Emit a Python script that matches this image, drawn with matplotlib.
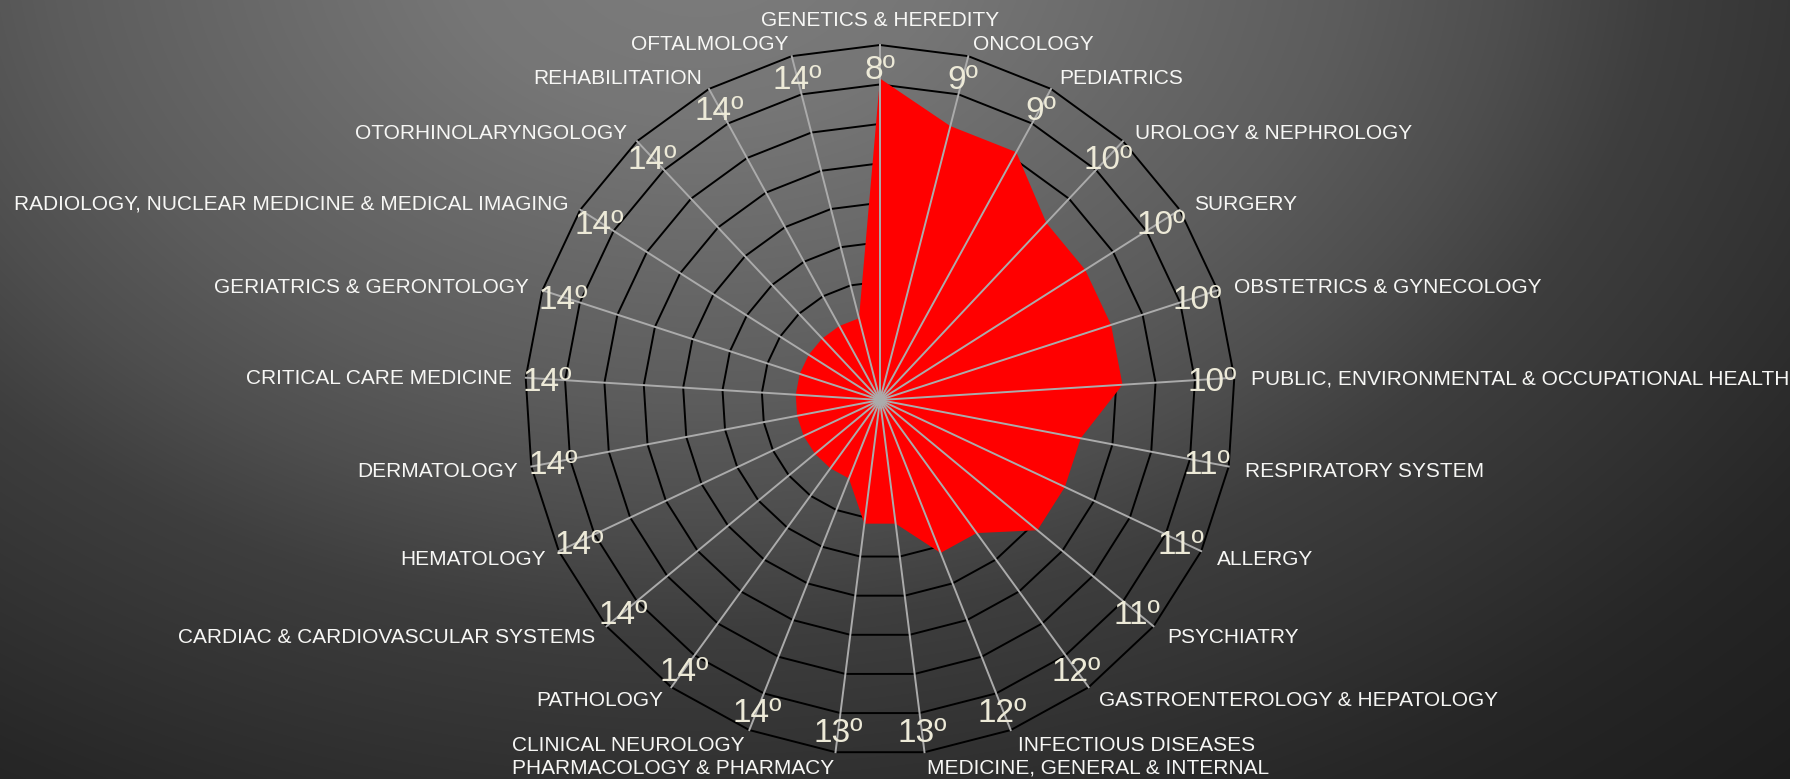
import numpy as np
import matplotlib
matplotlib.use("Agg")
import matplotlib.pyplot as plt

# ---------------- data ----------------
categories = [
    "GENETICS & HEREDITY", "ONCOLOGY", "PEDIATRICS", "UROLOGY & NEPHROLOGY",
    "SURGERY", "OBSTETRICS & GYNECOLOGY", "PUBLIC, ENVIRONMENTAL & OCCUPATIONAL HEALTH",
    "RESPIRATORY SYSTEM", "ALLERGY", "PSYCHIATRY", "GASTROENTEROLOGY & HEPATOLOGY",
    "INFECTIOUS DISEASES", "MEDICINE, GENERAL & INTERNAL", "PHARMACOLOGY & PHARMACY",
    "CLINICAL NEUROLOGY", "PATHOLOGY", "CARDIAC & CARDIOVASCULAR SYSTEMS",
    "HEMATOLOGY", "DERMATOLOGY", "CRITICAL CARE MEDICINE", "GERIATRICS & GERONTOLOGY",
    "RADIOLOGY, NUCLEAR MEDICINE & MEDICAL IMAGING", "OTORHINOLARYNGOLOGY",
    "REHABILITATION", "OFTALMOLOGY",
]
ranks = [8, 9, 9, 10, 10, 10, 10, 11, 11, 11, 12, 12, 13, 13,
         14, 14, 14, 14, 14, 14, 14, 14, 14, 14, 14]
values = [8.15, 7.17, 7.17, 6.16, 6.16, 6.16, 6.16, 5.18, 5.18, 5.18, 4.17, 4.17,
          3.16, 3.16, 2.14, 2.14, 2.14, 2.14, 2.14, 2.14, 2.14, 2.14, 2.14, 2.14, 2.14]
rings = [1, 2, 3, 4, 5, 6, 7, 8, 9]

W, H = 1809, 779
fig = plt.figure(figsize=(W / 100, H / 100), dpi=100, facecolor="white")

# ---------------- background gradient ----------------
bg_w = 1790
bg = fig.add_axes([0, 0, bg_w / W, 1])
yy, xx = np.mgrid[0:H, 0:bg_w]
d = np.sqrt((xx - 700.0) ** 2 + ((yy + 60.0) * 1.4) ** 2)
kd = [0, 250, 650, 810, 960, 1140, 1330, 1400, 1700, 2200]
kv = [125, 118, 92, 78, 62, 51, 39, 36, 26, 22]
g = np.interp(d, kd, kv) / 255.0
img = np.dstack([g, g, g])
bg.imshow(img, aspect="auto", extent=(0, 1, 0, 1), origin="upper", interpolation="bilinear")
bg.set_axis_off()
bg.set_zorder(0)

# ---------------- radar ----------------
cx, cy, R = 880, 400, 355
ax = fig.add_axes([(cx - R) / W, (H - cy - R) / H, 2 * R / W, 2 * R / H], projection="polar")
ax.set_zorder(1)
ax.patch.set_alpha(0)
ax.set_theta_zero_location("N")
ax.set_theta_direction(-1)
rmax = rings[-1]
ax.set_ylim(0, rmax)
ax.set_xticks([])
ax.set_yticks([])
ax.grid(False)
ax.spines["polar"].set_visible(False)

n = len(categories)
theta = np.arange(n) * 2 * np.pi / n
theta_c = np.append(theta, theta[0])

for r in rings:
    ax.plot(theta_c, [r] * (n + 1), color="black", lw=1.4, zorder=1, clip_on=False)

vals_c = np.append(values, values[0])
ax.fill(theta_c, vals_c, color="#FF0000", lw=0, zorder=2)

for t in theta:
    ax.plot([t, t], [0, rmax], color="#ABABAB", lw=1.4, zorder=3, clip_on=False)

rank_color = "#EDEAD8"
lab_color = "#F7F7F5"
font = "Liberation Sans"

for t, rk in zip(theta, ranks):
    ax.annotate(f"{rk}º", xy=(t, rmax * 333 / 355), xytext=(0, -12),
                textcoords="offset pixels", ha="center", va="baseline",
                fontsize=24, color=rank_color, family=font, zorder=5,
                annotation_clip=False)

for t, name in zip(theta, categories):
    s, c = np.sin(t), np.cos(t)
    if abs(s) < 1e-6 and c > 0:
        ha, dx, dy = "center", 0, 18.5
    elif s > 0:
        ha, dx, dy = "left", 16 * s + 1, 14 * c - 7.5
    else:
        ha, dx, dy = "right", 14 * s, 14 * c - 7.5
    ax.annotate(name, xy=(t, rmax), xytext=(dx, dy), textcoords="offset pixels",
                ha=ha, va="baseline", fontsize=15, color=lab_color, family=font,
                zorder=5, annotation_clip=False)

fig.savefig("out.png", dpi=100, facecolor="white")
